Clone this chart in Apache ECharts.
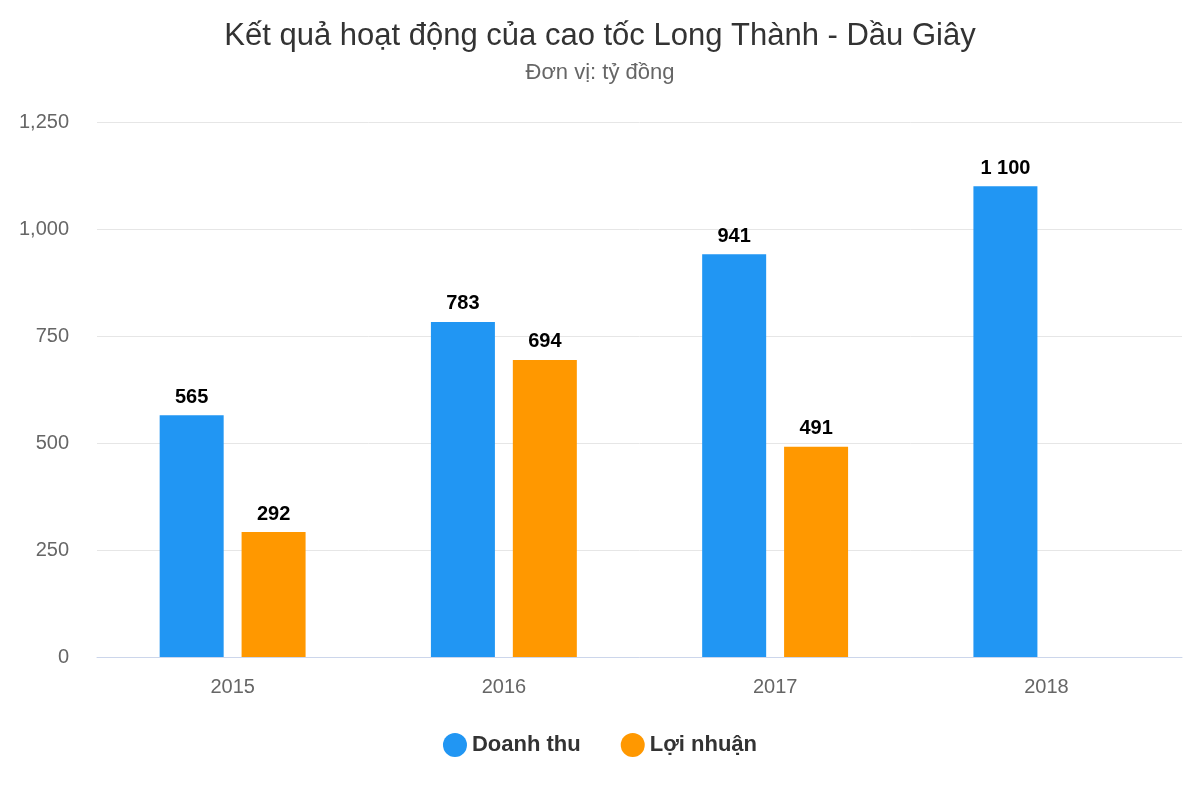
<!DOCTYPE html>
<html><head><meta charset="utf-8">
<script src="https://cdn.jsdelivr.net/npm/echarts@6/dist/echarts.min.js"></script>
<style>html,body{margin:0;background:#fff}#c{width:1200px;height:800px}</style>
</head><body><div id="c"></div>
<script>
const categories = ['2015','2016','2017','2018'];
const doanhThu = [565, 783, 941, 1100];
const loiNhuan = [292, 694, 491, '-'];
const yTicks = [0, 250, 500, 750, 1000, 1250];
const fmt = v => String(v).replace(/\B(?=(\d{3})+(?!\d))/g, ' ');
const F = '"Liberation Sans", Arial, sans-serif';
const chart = echarts.init(document.getElementById('c'));
const lbl = {show:true, position:'top', distance:8, color:'#000', fontWeight:'bold', fontSize:20, fontFamily:F, formatter:p=>fmt(p.value)};
chart.setOption({
  animation:false,
  title:{text:'Kết quả hoạt động của cao tốc Long Thành - Dầu Giây', subtext:'Đơn vị: tỷ đồng', left:'center', top:16, itemGap:10,
    textStyle:{fontFamily:F, fontSize:31, fontWeight:'normal', color:'#333'},
    subtextStyle:{fontFamily:F, fontSize:22, color:'#666'}},
  legend:{bottom:38, itemWidth:24, itemHeight:24, icon:'circle', itemGap:40,
    textStyle:{fontFamily:F, fontSize:22, fontWeight:'bold', color:'#333'}},
  grid:{left:97, right:18, top:122, bottom:143, containLabel:false},
  xAxis:{type:'category', data:categories,
    axisLine:{lineStyle:{color:'#ccd6eb'}}, axisTick:{length:14, lineStyle:{color:'#ccd6eb'}},
    axisLabel:{fontFamily:F, fontSize:20, color:'#666', margin:20}},
  yAxis:{type:'value', min:0, max:1250, interval:250,
    axisLabel:{fontFamily:F, fontSize:20, color:'#666', margin:28},
    splitLine:{lineStyle:{color:'#e6e6e6'}}},
  series:[
    {name:'Doanh thu', type:'bar', data:doanhThu, barWidth:64, barGap:'28%', itemStyle:{color:'#2196f3'}, label:lbl},
    {name:'Lợi nhuận', type:'bar', data:loiNhuan, barWidth:64, itemStyle:{color:'#ff9800'}, label:lbl}
  ]
});
</script></body></html>
